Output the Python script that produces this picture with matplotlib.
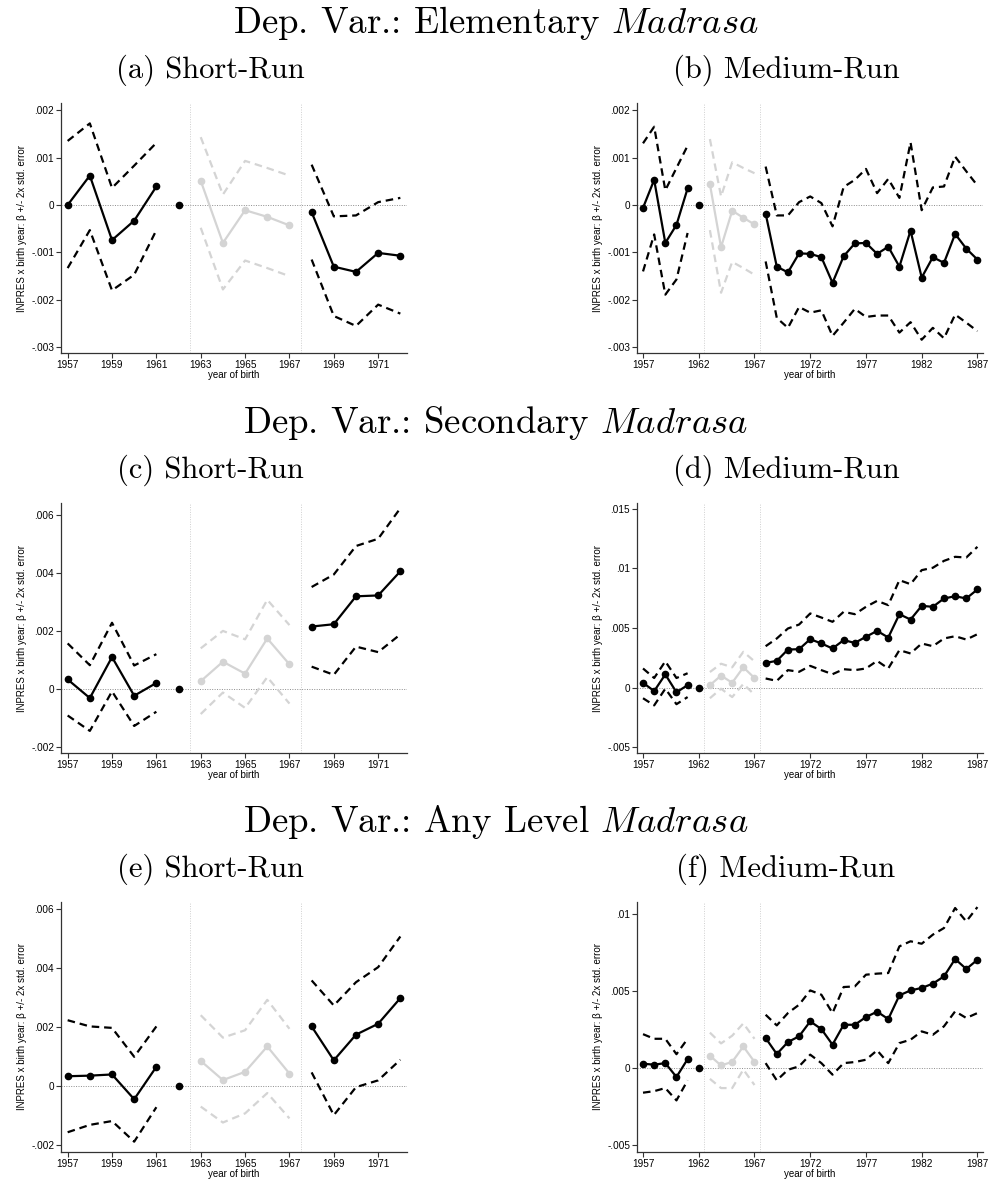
import numpy as np
import matplotlib.pyplot as plt
from matplotlib.ticker import FuncFormatter, MultipleLocator

plt.rcParams['mathtext.fontset'] = 'cm'
plt.rcParams['font.family'] = ['Liberation Sans', 'DejaVu Sans']

# birth cohorts (1962 is the omitted reference cohort)
years_sr = [y for y in range(1957, 1973) if y != 1962]
years_mr = [y for y in range(1957, 1988) if y != 1962]
ref_year, ref_coef = 1962, 0.0

# ---- Elementary madrasa ----
elem_sr_coef = [0.0, 0.00062, -0.00074, -0.00033, 0.00039,
                0.00051, -0.0008, -0.00011, -0.00025, -0.00043,
                -0.00015, -0.0013, -0.00141, -0.00101, -0.00107]
elem_sr_hi = [0.00135, 0.00172, 0.00036, 0.00083, 0.00131,
              0.00143, 0.00022, 0.00093, 0.00078, 0.00062,
              0.00085, -0.00024, -0.00022, 0.00006, 0.00015]
elem_sr_lo = [-0.00133, -0.00053, -0.0018, -0.00147, -0.00053,
              -0.00048, -0.00178, -0.00117, -0.00133, -0.0015,
              -0.00115, -0.00234, -0.00255, -0.0021, -0.00229]

elem_mr_coef = [-0.00006, 0.00053, -0.0008, -0.00042, 0.00035,
                0.00044, -0.00089, -0.00012, -0.00027, -0.00041,
                -0.00018, -0.0013, -0.00142, -0.00102, -0.00103, -0.0011, -0.00164,
                -0.00108, -0.00081, -0.0008, -0.00103, -0.00088, -0.0013, -0.00054,
                -0.00153, -0.0011, -0.00122, -0.00061, -0.00092, -0.00115]
elem_mr_hi = [0.0013, 0.00165, 0.00031, 0.00078, 0.00125,
              0.00139, 0.00018, 0.0009, 0.00078, 0.00067,
              0.00081, -0.00022, -0.00022, 0.00006, 0.00018, 0.00004, -0.00045,
              0.00038, 0.00053, 0.00076, 0.00025, 0.00055, 0.00015, 0.00132,
              -0.00011, 0.00037, 0.00039, 0.00102, 0.00071, 0.00041]
elem_mr_lo = [-0.0014, -0.00062, -0.00189, -0.00157, -0.00059,
              -0.00053, -0.00185, -0.0012, -0.00133, -0.00147,
              -0.00119, -0.00238, -0.00259, -0.00215, -0.00227, -0.00222, -0.00276,
              -0.00248, -0.00219, -0.00236, -0.00233, -0.00233, -0.00269, -0.00247,
              -0.00284, -0.00259, -0.00281, -0.00231, -0.00248, -0.00266]

# ---- Secondary madrasa ----
sec_sr_coef = [0.00033, -0.00031, 0.0011, -0.00023, 0.00021,
               0.00027, 0.00094, 0.00053, 0.00174, 0.00085,
               0.00215, 0.00223, 0.00319, 0.00322, 0.00405]
sec_sr_hi = [0.00157, 0.00082, 0.00228, 0.00081, 0.0012,
             0.0014, 0.002, 0.00171, 0.00307, 0.0022,
             0.00351, 0.00394, 0.00492, 0.00517, 0.00622]
sec_sr_lo = [-0.00091, -0.00144, -0.00008, -0.00127, -0.00078,
             -0.00086, -0.00012, -0.00065, 0.00041, -0.0005,
             0.00077, 0.00049, 0.00146, 0.00127, 0.00188]

sec_mr_coef = [0.0004, -0.0003, 0.0011, -0.0004, 0.0002,
               0.0002, 0.001, 0.0004, 0.0017, 0.0008,
               0.00207, 0.00224, 0.00319, 0.00322, 0.00406, 0.0037, 0.00328,
               0.00398, 0.00375, 0.00426, 0.00476, 0.0042, 0.00616, 0.00571,
               0.00686, 0.00678, 0.00748, 0.00767, 0.00748, 0.00824]
sec_mr_hi = [0.0016, 0.0008, 0.0022, 0.0008, 0.0012,
             0.0013, 0.002, 0.0017, 0.003, 0.0022,
             0.00347, 0.00412, 0.00496, 0.00529, 0.00622, 0.00588, 0.00552,
             0.00636, 0.00616, 0.00678, 0.00728, 0.00692, 0.00902, 0.00868,
             0.00986, 0.01006, 0.01064, 0.01098, 0.01092, 0.01182]
sec_mr_lo = [-0.0009, -0.0015, -0.0001, -0.0014, -0.0008,
             -0.0009, -0.0001, -0.0008, 0.0003, -0.0006,
             0.00076, 0.00056, 0.00146, 0.00132, 0.00182, 0.00146, 0.00112,
             0.00154, 0.00146, 0.0016, 0.00224, 0.0016, 0.00314, 0.00286,
             0.0037, 0.00347, 0.00412, 0.00431, 0.00403, 0.00448]

# ---- Any level madrasa ----
any_sr_coef = [0.00033, 0.00035, 0.00039, -0.00045, 0.00065,
               0.00085, 0.0002, 0.00048, 0.00134, 0.00042,
               0.00202, 0.00087, 0.00174, 0.00211, 0.00298]
any_sr_hi = [0.00223, 0.00202, 0.00197, 0.00099, 0.00202,
             0.0024, 0.00164, 0.00189, 0.00292, 0.00194,
             0.00358, 0.00273, 0.00352, 0.00403, 0.00507]
any_sr_lo = [-0.00157, -0.00132, -0.00119, -0.00189, -0.00072,
             -0.0007, -0.00124, -0.00093, -0.00024, -0.0011,
             0.00046, -0.00099, -0.00004, 0.00019, 0.00089]

any_mr_coef = [0.00028, 0.00022, 0.00032, -0.00058, 0.00058,
               0.0008, 0.00017, 0.0004, 0.0014, 0.0004,
               0.00195, 0.00091, 0.00169, 0.00206, 0.00303, 0.00253, 0.00152,
               0.00281, 0.00281, 0.00331, 0.00366, 0.00318, 0.00472, 0.00504,
               0.0052, 0.00548, 0.00595, 0.00708, 0.00643, 0.00703]
any_mr_hi = [0.0022, 0.0019, 0.0019, 0.0009, 0.0019,
             0.0023, 0.0016, 0.0021, 0.0029, 0.0019,
             0.00346, 0.00277, 0.00357, 0.00411, 0.00504, 0.00476, 0.00357,
             0.00526, 0.0053, 0.00606, 0.00613, 0.00617, 0.0079, 0.00823,
             0.00807, 0.00866, 0.00909, 0.01039, 0.00952, 0.01045]
any_mr_lo = [-0.0016, -0.0015, -0.0013, -0.0021, -0.0008,
             -0.0007, -0.0013, -0.0013, -0.0001, -0.0011,
             0.00032, -0.0008, -0.00011, 0.00011, 0.00087, 0.00032, -0.00043,
             0.00032, 0.00039, 0.00054, 0.00115, 0.00032, 0.00162, 0.00184,
             0.00238, 0.00216, 0.00271, 0.00368, 0.00325, 0.00357]

section_titles = ['Dep. Var.: Elementary $\\mathit{Madrasa}$',
                  'Dep. Var.: Secondary $\\mathit{Madrasa}$',
                  'Dep. Var.: Any Level $\\mathit{Madrasa}$']
panel_titles = [['(a) Short-Run', '(b) Medium-Run'],
                ['(c) Short-Run', '(d) Medium-Run'],
                ['(e) Short-Run', '(f) Medium-Run']]

panels = [
    [(years_sr, elem_sr_coef, elem_sr_hi, elem_sr_lo, (-0.00312, 0.00215), 0.001),
     (years_mr, elem_mr_coef, elem_mr_hi, elem_mr_lo, (-0.00312, 0.00215), 0.001)],
    [(years_sr, sec_sr_coef, sec_sr_hi, sec_sr_lo, (-0.0022, 0.0064), 0.002),
     (years_mr, sec_mr_coef, sec_mr_hi, sec_mr_lo, (-0.0055, 0.0155), 0.005)],
    [(years_sr, any_sr_coef, any_sr_hi, any_sr_lo, (-0.00224, 0.00624), 0.002),
     (years_mr, any_mr_coef, any_mr_hi, any_mr_lo, (-0.00545, 0.01078), 0.005)],
]


def stata_fmt(v, pos):
    if abs(v) < 1e-12:
        return '0'
    return f'{v:.3f}'.rstrip('0').replace('0.', '.')


GREY = '#d4d4d4'
W, H = 992, 1182
fig = plt.figure(figsize=(W / 100, H / 100), dpi=100)

row_tops = [103, 503, 902]
col_lefts = [61, 637]
ax_w, ax_h = 346, 250

for r in range(3):
    top = row_tops[r]
    fig.text(0.5, 1 - (top - 80) / H, section_titles[r], ha='center', va='center',
             fontsize=26.5, family='cmr10')
    for c in range(2):
        years, coef, hi, lo, ylim, ystep = panels[r][c]
        left = col_lefts[c]
        fig.text((left + 149) / W, 1 - (top - 33) / H, panel_titles[r][c],
                 ha='center', va='center', fontsize=22, family='cmr10')
        ax = fig.add_axes([left / W, 1 - (top + ax_h) / H, ax_w / W, ax_h / H])

        yrs = np.array(years)
        coef, hi, lo = np.array(coef), np.array(hi), np.array(lo)
        segs = [(yrs < ref_year, 'black'),
                ((yrs > ref_year) & (yrs <= 1967), GREY),
                (yrs >= 1968, 'black')]

        ax.axhline(0, color='#8c8c8c', ls=(0, (1, 1.5)), lw=0.7, zorder=1)
        for xv in (1962.5, 1967.5):
            ax.axvline(xv, color='#cfcfcf', ls=(0, (1, 1.5)), lw=0.7, zorder=1)

        for m, col in segs:
            ax.plot(yrs[m], hi[m], color=col, ls=(0, (3.4, 2.2)), lw=1.6, zorder=2)
            ax.plot(yrs[m], lo[m], color=col, ls=(0, (3.4, 2.2)), lw=1.6, zorder=2)
            ax.plot(yrs[m], coef[m], color=col, lw=1.6, marker='o', ms=4.5, zorder=3)
        ax.plot([ref_year], [ref_coef], 'o', color='black', ms=4.5, zorder=3)

        if c == 0:
            ax.set_xlim(1956.7, 1972.3)
            ax.set_xticks(range(1957, 1973, 2))
        else:
            ax.set_xlim(1956.46, 1987.5)
            ax.set_xticks(range(1957, 1988, 5))
        ax.set_ylim(*ylim)
        ax.yaxis.set_major_locator(MultipleLocator(ystep))
        ax.yaxis.set_major_formatter(FuncFormatter(stata_fmt))

        for s in ('top', 'right'):
            ax.spines[s].set_visible(False)
        for s in ('left', 'bottom'):
            ax.spines[s].set_color('#333333')
            ax.spines[s].set_linewidth(0.9)
        ax.tick_params(axis='both', labelsize=7.2, length=3.5, width=0.8,
                       color='#333333', pad=1.5)
        ax.set_xlabel('year of birth', fontsize=7.0, labelpad=0)
        ax.set_ylabel('INPRES x birth year: β +/- 2x std. error', fontsize=7.0,
                      labelpad=3)

fig.savefig('out.png', dpi=100, facecolor='white')
